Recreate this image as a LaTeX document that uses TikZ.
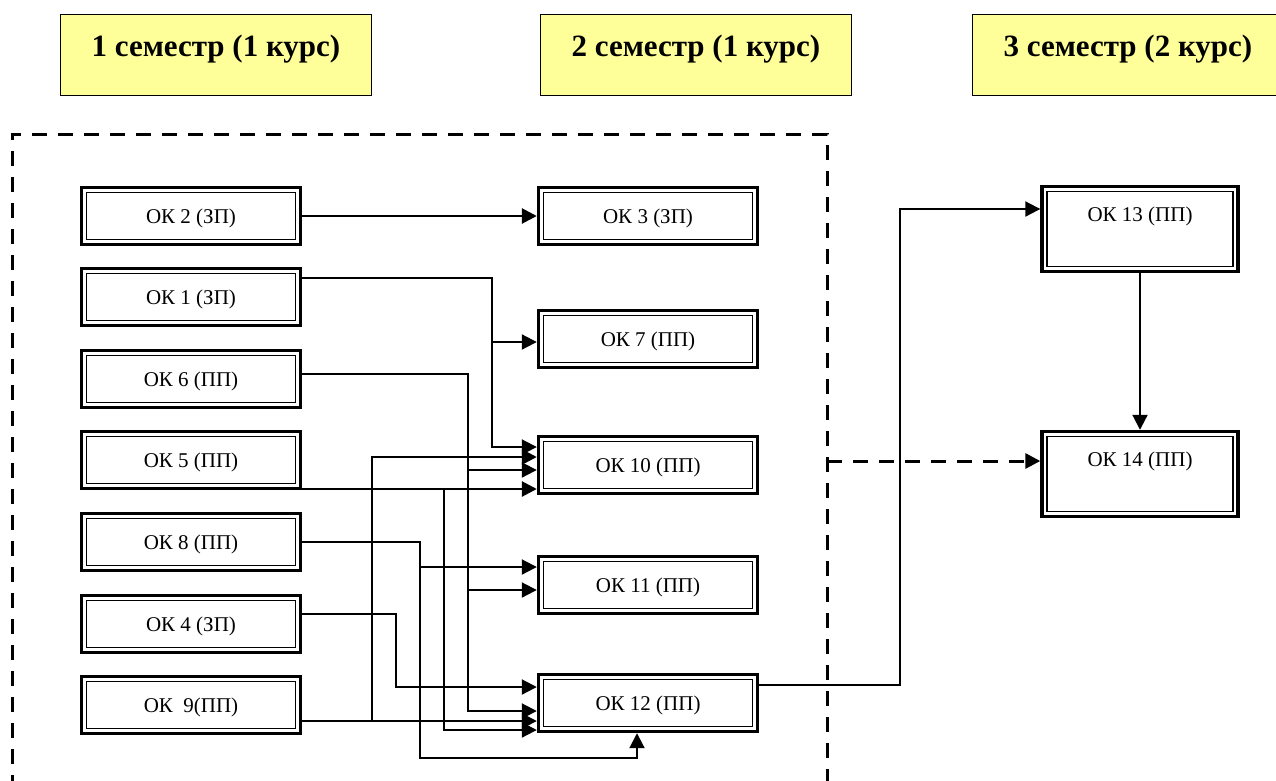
\documentclass[tikz,border=0pt]{standalone}
\usepackage{fontspec}
\setmainfont{Liberation Serif}
\usetikzlibrary{arrows.meta}
\definecolor{semyellow}{RGB}{255,255,153}
\tikzset{
  okbox/.style={draw, line width=3.4pt, minimum width=219pt, minimum height=57pt,
    inner sep=0pt, font=\fontsize{21}{25}\selectfont, text height=15pt, text depth=0pt,
    path picture={\draw[line width=1.8pt]
      ([shift={(5pt,-5pt)}]path picture bounding box.north west) rectangle
      ([shift={(-5pt,5pt)}]path picture bounding box.south east);}},
  tallbox/.style={okbox, minimum width=196pt, minimum height=85pt, text depth=30pt},
  semhead/.style={draw, line width=1.5pt, fill=semyellow, minimum width=311pt,
    minimum height=81pt, font=\fontsize{31}{37}\selectfont\bfseries,
    text height=22pt, text depth=19pt},
  framedash/.style={line width=3pt, dash pattern=on 15pt off 11pt},
  heavy/.style={line width=2.7pt}
}
\begin{document}
\begin{tikzpicture}[x=1pt, y=-1pt, line width=2pt, >={Triangle[length=15pt,width=15pt]}]
    \clip (0,0) rectangle (1276,780);

    \node[semhead] (sem1) at (216,55)  {1 семестр (1 курс)};
    \node[semhead] (sem2) at (696,55)  {2 семестр (1 курс)};
    \node[semhead] (sem3) at (1128,55) {3 семестр (2 курс)};

    \draw[framedash] (12,790) |- (827,134) -- (827,790);

    \node[okbox] (ok2) at (191,216) {ОК 2 (ЗП)};
    \node[okbox] (ok1) at (191,297) {ОК 1 (ЗП)};
    \node[okbox] (ok6) at (191,379) {ОК 6 (ПП)};
    \node[okbox] (ok5) at (191,460) {ОК 5 (ПП)};
    \node[okbox] (ok8) at (191,542) {ОК 8 (ПП)};
    \node[okbox] (ok4) at (191,624) {ОК 4 (ЗП)};
    \node[okbox] (ok9) at (191,705) {ОК\ \ 9(ПП)};

    \node[okbox] (ok3)  at (648,216) {ОК 3 (ЗП)};
    \node[okbox] (ok7)  at (648,339) {ОК 7 (ПП)};
    \node[okbox] (ok10) at (648,465) {ОК 10 (ПП)};
    \node[okbox] (ok11) at (648,585) {ОК 11 (ПП)};
    \node[okbox] (ok12) at (648,703) {ОК 12 (ПП)};

    \node[tallbox] (ok13) at (1140,229) {ОК 13 (ПП)};
    \node[tallbox] (ok14) at (1140,474) {ОК 14 (ПП)};

    \coordinate (j1) at (492,342);
    \coordinate (j2) at (468,470);
    \coordinate (j3) at (468,590);
    \coordinate (j4) at (444,489);
    \coordinate (j5) at (372,721);
    \coordinate (j6) at (420,567);
    \coordinate (dashR) at (827,461);

    \draw[->,heavy] (ok2.east) -- (ok3.west);
    \draw[->] (ok1.east |- 0,278) -| (492,447) -- (ok10.west |- 0,447);
    \draw[->] (j1) -- (ok7.west |- j1);
    \draw[->] (ok6.east |- 0,374) -| (468,711) -- (ok12.west |- 0,711);
    \draw[->] (j2) -- (ok10.west |- j2);
    \draw[->] (j3) -- (ok11.west |- j3);
    \draw[->,heavy] (ok5.east |- j4) -- (ok10.west |- j4);
    \draw[->] (j4) |- (ok12.west |- 0,730);
    \draw[->] (ok9.east |- j5) -- (ok12.west |- j5);
    \draw[->,heavy] (j5) |- (ok10.west |- 0,457);
    \draw[->] (ok8.east) -| (420,758) -| ([xshift=-11pt]ok12.south);
    \draw[->] (j6) -- (ok11.west |- j6);
    \draw[->] (ok4.east |- 0,614) -| (396,687) -- (ok12.west |- 0,687);

    \draw[->] (ok12.east |- 0,685) -| (900,209) -- (ok13.west |- 0,209);
    \draw[->] (ok13.south) -- (ok14.north);
    \draw[->,framedash] (dashR) -- (ok14.west |- dashR);
  \end{tikzpicture}
\end{document}
